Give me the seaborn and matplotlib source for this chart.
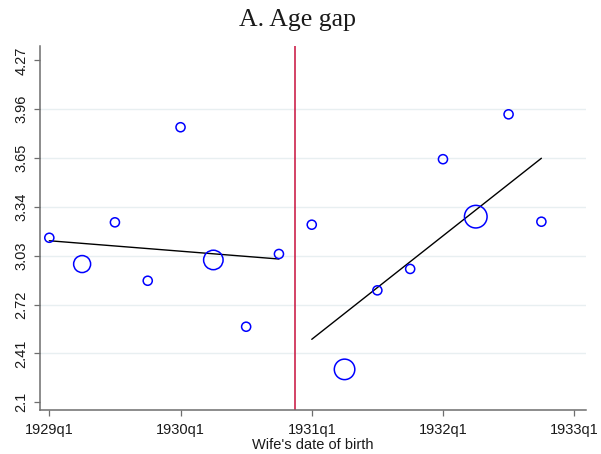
import numpy as np
import pandas as pd
import matplotlib
matplotlib.use("Agg")
import matplotlib.pyplot as plt
import seaborn as sns

# ---- data (quarter index 0 = 1929q1) ----
quarters = list(range(16))
age_gap = [3.144, 2.977, 3.242, 2.871, 3.846, 3.003, 2.579, 3.041,
           3.227, 2.308, 2.810, 2.946, 3.643, 3.278, 3.928, 3.246]
cell_weight = [1.0, 3.5, 1.0, 1.0, 1.0, 4.6, 1.0, 1.0,
               1.0, 5.1, 1.0, 1.0, 1.0, 6.2, 1.0, 1.0]
fit_left_x = [0, 7]
fit_left_y = [3.125, 3.009]
fit_right_x = [8, 15]
fit_right_y = [2.499, 3.649]
cutoff = 7.5
x_tick_pos = [0, 4, 8, 12, 16]
x_tick_labels = ["1929q1", "1930q1", "1931q1", "1932q1", "1933q1"]
y_ticks = [2.1, 2.41, 2.72, 3.03, 3.34, 3.65, 3.96, 4.27]
y_tick_labels = ["2.1", "2.41", "2.72", "3.03", "3.34", "3.65", "3.96", "4.27"]

df = pd.DataFrame({"quarter": quarters, "age_gap": age_gap, "weight": cell_weight})

sns.set_style("white")
plt.rcParams["font.family"] = ["Liberation Sans", "DejaVu Sans"]

fig = plt.figure(figsize=(6.01, 4.54), dpi=100)
ax = fig.add_axes([40 / 601, 1 - 410 / 454, 546 / 601, 364 / 454])

axis_gray = "#6e6e6e"
text_col = "#1a1a1a"

ax.set_ylim(2.05, 4.362)
ax.set_xlim(-0.284, 16.36)
ax.set_yticks(y_ticks)
ax.set_yticklabels(y_tick_labels, rotation=90, va="center")
ax.set_xticks(x_tick_pos)
ax.set_xticklabels(x_tick_labels)

ax.yaxis.grid(True, color="#e8eff1", lw=1.0)
ax.set_axisbelow(True)
gl = ax.get_ygridlines()
gl[0].set_visible(False)
gl[-1].set_visible(False)

ax.axvline(cutoff, color="#c8103c", lw=1.1, zorder=2)

sns.lineplot(x=fit_left_x, y=fit_left_y, color="black", lw=1.0, ax=ax, zorder=3)
sns.lineplot(x=fit_right_x, y=fit_right_y, color="black", lw=1.0, ax=ax, zorder=3)

sns.scatterplot(data=df, x="quarter", y="age_gap", size="weight",
                sizes=(43, 265), marker="o", legend=False, ax=ax, zorder=4)
pts = ax.collections[-1]
pts.set_facecolor("none")
pts.set_edgecolor("#0000ff")
pts.set_linewidth(1.1)

for side in ["top", "right"]:
    ax.spines[side].set_visible(False)
for side in ["left", "bottom"]:
    ax.spines[side].set_color(axis_gray)
    ax.spines[side].set_linewidth(1.1)

ax.tick_params(axis="both", direction="out", length=4.5, width=0.9,
               color=axis_gray, labelsize=10.5, labelcolor=text_col,
               left=True, bottom=True)
ax.tick_params(axis="x", pad=5)
ax.tick_params(axis="y", pad=4)

ax.set_xlabel("Wife's date of birth", fontsize=10.5, color=text_col, labelpad=0.5)
ax.set_ylabel("")

fig.text(0.495, 1 - 26 / 454, "A. Age gap", ha="center", va="baseline",
         fontsize=18.5, family=["Liberation Serif", "DejaVu Serif"], color=text_col)

fig.savefig("out.png", dpi=100)
